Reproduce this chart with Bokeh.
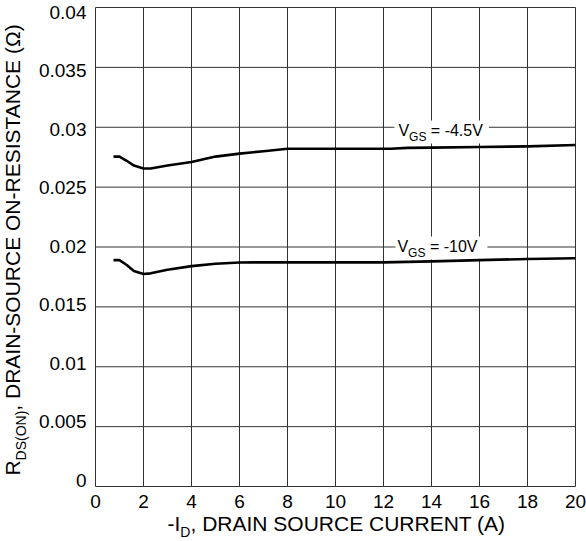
import math
from bokeh.plotting import figure
from bokeh.models import Label, Range1d, FixedTicker, LinearAxis
from bokeh.embed import file_html
from bokeh.resources import INLINE

# ---------------- data ----------------
id_45 = [0.75, 1.0, 1.3, 1.6, 2.0, 2.3, 3.0, 4.0, 5.0, 6.0, 7.0, 8.0, 10.0, 12.3, 13.0, 14.0, 16.0, 18.0, 20.0]
r_45 = [0.02755, 0.02755, 0.0272, 0.0268, 0.02655, 0.02655, 0.0268, 0.0271, 0.02755, 0.0278, 0.0280, 0.0282,
        0.0282, 0.0282, 0.02828, 0.0283, 0.02835, 0.0284, 0.02852]
id_10 = [0.75, 1.0, 1.3, 1.6, 2.0, 2.3, 3.0, 4.0, 5.0, 6.0, 6.6, 8.0, 10.0, 12.0, 14.0, 16.0, 18.0, 20.0]
r_10 = [0.0189, 0.0189, 0.0185, 0.0180, 0.01775, 0.0178, 0.0181, 0.0184, 0.0186, 0.0187, 0.01872, 0.01872,
        0.01872, 0.01872, 0.0188, 0.0189, 0.0190, 0.01906]
x_ticks = [0, 2, 4, 6, 8, 10, 12, 14, 16, 18, 20]
y_ticks = [0, 0.005, 0.01, 0.015, 0.02, 0.025, 0.03, 0.035, 0.04]
y_tick_labels = ["0", "0.005", "0.01", "0.015", "0.02", "0.025", "0.03", "0.035", "0.04"]
curve_names = ["-4.5V", "-10V"]
curve_label_pos = [(12.62, 0.02915), (12.58, 0.01946)]   # data coords of label start / baseline
x_label = ["-I", "D", ", DRAIN SOURCE CURRENT (A)"]
y_label = ["R", "DS(ON)", ", DRAIN-SOURCE ON-RESISTANCE (\u03a9)"]

# ---------------- layout ----------------
W, H = 586, 541
FL, FR, FT, FB = 95, 575, 7, 486          # pixel box of the gridded area
FW, FH = FR - FL, FB - FT
X0, X1, Y0, Y1 = 0.0, 20.0, 0.0, 0.04
FONT = "Liberation Sans"
BASE_FIX = 0.41   # Label "alphabetic" anchor correction, in em


def px2x(px):
    return X0 + (px - FL) * (X1 - X0) / FW


def py2y(py):
    return Y0 + (FB - py) * (Y1 - Y0) / FH


AW = {' ': 278, ',': 278, '-': 333, '.': 278, '(': 333, ')': 333, '=': 584, 'A': 667, 'C': 722,
      'D': 722, 'E': 667, 'G': 778, 'I': 278, 'N': 722, 'O': 778, 'R': 722, 'S': 667, 'T': 611,
      'U': 722, 'V': 667, '\u03a9': 768}


def tw(s, size):
    return sum(AW.get(c, 556 if c.isdigit() else 600) for c in s) * size / 1000.0


p = figure(width=W, height=H,
           x_range=Range1d(px2x(0), px2x(W)), y_range=Range1d(py2y(H), py2y(0)),
           output_backend="svg", toolbar_location=None,
           x_axis_location=None, y_axis_location=None, min_border=0)
p.background_fill_color = "white"
p.border_fill_color = "white"
p.outline_line_color = None
p.grid.visible = False

# y tick labels in the reference sit on a slightly compressed scale
LAB_TOP_PX, LAB_BOT_PX = 11.7, 480.0


def lab(py):
    return Y1 * (LAB_BOT_PX - py) / (LAB_BOT_PX - LAB_TOP_PX)


p.extra_y_ranges = {"lab": Range1d(lab(H), lab(0))}

xax = LinearAxis(fixed_location=X0, bounds=(X0, X1), ticker=FixedTicker(ticks=x_ticks))
yax = LinearAxis(fixed_location=X0, y_range_name="lab", bounds=(Y0, Y1),
                 ticker=FixedTicker(ticks=y_ticks),
                 major_label_overrides=dict(zip(y_ticks, y_tick_labels)))
for ax, standoff in ((xax, 8), (yax, 9)):
    ax.axis_line_color = None
    ax.major_tick_out = 0
    ax.major_tick_in = 0
    ax.minor_tick_out = 0
    ax.minor_tick_in = 0
    ax.major_label_standoff = standoff
    ax.major_label_text_font = FONT
    ax.major_label_text_font_size = "19px"
    ax.major_label_text_color = "black"
p.add_layout(xax, "below")
p.add_layout(yax, "left")

# grid lines (the outer ones form the box)
GRID = "#333333"
p.segment(x0=x_ticks, y0=[Y0] * len(x_ticks), x1=x_ticks, y1=[Y1] * len(x_ticks),
          line_color=GRID, line_width=1)
p.segment(x0=[X0] * len(y_ticks), y0=y_ticks, x1=[X1] * len(y_ticks), y1=y_ticks,
          line_color=GRID, line_width=1)

# white boxes behind the curve labels
pads = [(4, 6), (2, 10)]
segs_curves = []
for name, (lx, ly), (pl, pr) in zip(curve_names, curve_label_pos, pads):
    segs = [("V", 16, 0), ("GS", 12, 4), (" = " + name, 16, 0)]
    segs_curves.append((lx, ly, segs))
    total = sum(tw(s, sz) for s, sz, _ in segs)
    sx = FL + (lx - X0) * FW / (X1 - X0)
    sy = FB - (ly - Y0) * FH / (Y1 - Y0)
    p.quad(left=[px2x(sx - pl)], right=[px2x(sx + total + pr)],
           top=[py2y(sy - 17)], bottom=[py2y(sy + 6)],
           fill_color="white", line_color=None)

p.line(id_45, r_45, line_color="black", line_width=2.6, line_join="round")
p.line(id_10, r_10, line_color="black", line_width=2.6, line_join="round")


def rich_h(x_px, y_px, segs):
    cur = x_px
    for s, sz, dy in segs:
        t = s.lstrip(" ")
        cur += tw(s[:len(s) - len(t)], sz)
        p.add_layout(Label(x=px2x(cur), y=py2y(y_px + dy - BASE_FIX * sz), text=t, text_font=FONT,
                           text_font_size=f"{sz}px", text_color="black",
                           text_baseline="alphabetic", text_align="left"))
        cur += tw(t, sz)


def rich_v(x_px, y_px, segs):
    cur = y_px
    for s, sz, dy in segs:
        t = s.lstrip(" ")
        cur -= tw(s[:len(s) - len(t)], sz)
        p.add_layout(Label(x=px2x(x_px + dy - BASE_FIX * sz), y=py2y(cur), text=t, text_font=FONT,
                           text_font_size=f"{sz}px", text_color="black", angle=math.pi / 2,
                           text_baseline="alphabetic", text_align="left"))
        cur -= tw(t, sz)


for lx, ly, segs in segs_curves:
    sx = FL + (lx - X0) * FW / (X1 - X0)
    sy = FB - (ly - Y0) * FH / (Y1 - Y0)
    rich_h(sx, sy, segs)

xsegs = [(x_label[0], 21, 0), (x_label[1], 14, 5), (x_label[2], 21, 0)]
xtot = sum(tw(s, sz) for s, sz, _ in xsegs)
rich_h((FL + FR) / 2 + 1 - xtot / 2, 532, xsegs)

ysegs = [(y_label[0], 21, 0), (y_label[1], 14, 6), (y_label[2], 21, 0)]
ytot = sum(tw(s, sz) for s, sz, _ in ysegs)
rich_v(20.5, 248.5 + ytot / 2, ysegs)

open("out.html", "w").write(file_html(p, INLINE))
